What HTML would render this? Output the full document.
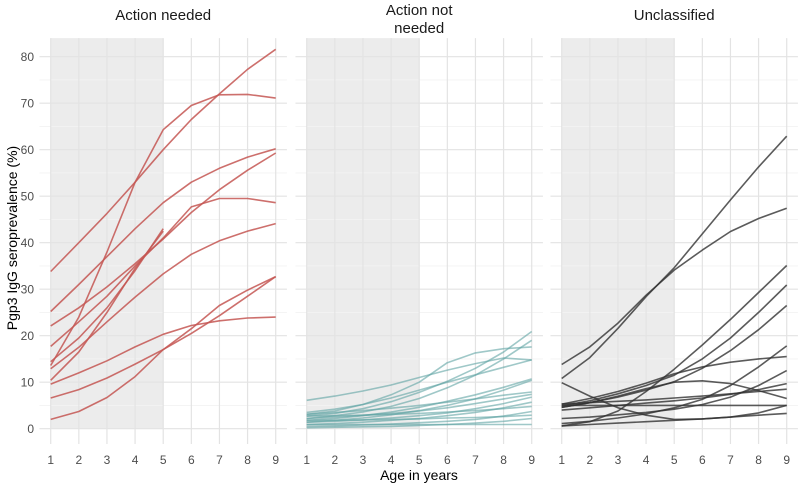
<!DOCTYPE html>
<html><head><meta charset="utf-8">
<style>
html,body{margin:0;padding:0;background:#fff;}
svg{display:block;font-family:"Liberation Sans",Arial,sans-serif;}
</style></head>
<body>
<svg id="chart" width="798" height="485" viewBox="0 0 798 485" xmlns="http://www.w3.org/2000/svg">
<text transform="translate(17,238) rotate(-90)" text-anchor="middle" font-size="14" fill="#000">Pgp3 IgG seroprevalence (%)</text>
<text x="419" y="480" text-anchor="middle" font-size="14" fill="#000">Age in years</text>
<g id="panels"></g>
</svg>
<script>
const ages = [1,2,3,4,5,6,7,8,9];
const yTicks = [0,10,20,30,40,50,60,70,80];
const panelTitles = [["Action needed"],["Action not","needed"],["Unclassified"]];
const panelColors = ["rgba(196,86,82,0.85)","rgba(95,163,163,0.6)","rgba(50,50,50,0.8)"];
const seriesActionNeeded = [
 [33.8,40,46.3,53,60,66.5,72,77.3,81.6],
 [13.6,24,38,53,64.3,69.5,71.8,71.9,71.1],
 [25.2,31,37,43,48.6,53,56,58.4,60.2],
 [22.1,26,30.5,35.5,40.8,46.5,51.4,55.6,59.3],
 [17.7,23,28.5,35,41,47.7,49.5,49.5,48.6],
 [12.9,17.5,23,28.3,33.3,37.5,40.4,42.5,44.1],
 [14.4,19.5,26,34,43,null,null,null,null],
 [10.4,16.5,25,34.5,42.5,null,null,null,null],
 [6.6,8.4,10.9,13.9,17,21.5,26.5,29.8,32.7],
 [2.0,3.7,6.7,11.2,17,20.5,24.3,28.5,32.7],
 [9.6,12,14.6,17.6,20.3,22.2,23.2,23.8,24]
];
const seriesActionNotNeeded = [
 [6.1,7.0,8.1,9.4,11.0,12.6,14.0,15.2,14.8],
 [3.1,3.8,5.2,7.3,10.0,14.2,16.3,17.2,17.6],
 [2.7,3.3,4.3,5.8,7.8,10.2,13.0,16.5,20.9],
 [2.2,2.8,3.6,4.8,6.5,8.8,11.5,15.0,19.0],
 [3.5,4.2,5.2,6.6,8.3,10.0,11.6,13.2,14.8],
 [1.8,2.2,2.8,3.6,4.6,5.9,7.3,8.9,10.7],
 [1.4,1.8,2.3,3.0,3.9,5.0,6.4,8.3,10.4],
 [3.1,3.5,3.9,4.4,5.0,5.7,6.4,7.2,7.9],
 [2.2,2.5,2.9,3.3,3.8,4.5,5.4,6.4,7.4],
 [1.4,1.6,1.9,2.3,2.8,3.4,4.3,5.4,6.8],
 [0.9,1.1,1.4,1.8,2.2,2.8,3.5,4.5,5.7],
 [2.7,2.8,2.9,3.1,3.3,3.6,3.9,4.3,4.8],
 [0.5,0.6,0.8,1.0,1.3,1.6,2.0,2.7,3.7],
 [1.8,1.8,1.9,2.0,2.1,2.3,2.4,2.6,2.9],
 [0.2,0.3,0.4,0.5,0.7,0.9,1.2,1.6,2.2],
 [0.9,0.9,0.9,0.9,0.9,0.9,0.9,0.9,0.9]
];
const seriesUnclassified = [
 [10.8,15.3,21.6,28.4,34.6,41.9,49.2,56.3,62.9],
 [13.8,17.6,22.7,28.7,34.1,38.4,42.4,45.2,47.4],
 [0.6,1.5,3.8,8.0,12.8,18.0,23.5,29.3,35.1],
 [4.9,6.0,7.5,9.3,11.5,15.0,19.5,25,30.9],
 [4.6,5.6,6.8,8.3,10.1,13.0,16.8,21.3,26.5],
 [1.1,1.6,2.3,3.2,4.5,6.3,9.3,13.3,17.8],
 [5.3,6.5,8.0,9.8,11.8,13.3,14.3,15.0,15.5],
 [2.2,2.5,3.0,3.5,4.2,5.2,6.8,9.3,12.5],
 [9.9,7.0,4.5,2.9,2.0,2.1,2.5,3.4,5.0],
 [4.0,4.5,5.0,5.5,6.0,6.6,7.4,8.4,9.7],
 [4.6,5.6,7.0,8.6,10.0,10.3,9.7,8.2,6.5],
 [5.3,5.6,5.9,6.2,6.6,7.0,7.5,8.0,8.5],
 [0.6,0.9,1.2,1.5,1.8,2.1,2.5,2.9,3.3],
 [5.0,5.0,5.0,5.0,5.0,5.0,5.0,5.0,5.0]
];
const allSeries = [seriesActionNeeded, seriesActionNotNeeded, seriesUnclassified];
const panelNames = ["action-needed","action-not-needed","unclassified"];

const NS = "http://www.w3.org/2000/svg";
const panelOffsets = [0,256,511];
function xScale(p, v){ return 50.7 + panelOffsets[p] + (v-1)*28.125; }
function yScale(v){ return 428.7 - v*4.65; }
function mk(tag, attrs, parent){ const e=document.createElementNS(NS,tag); for(const k in attrs) e.setAttribute(k,attrs[k]); parent.appendChild(e); return e; }

const root = document.getElementById("panels");
for(let p=0;p<3;p++){
  const g = mk("g",{},root);
  
  
  const x0=xScale(p,0.6), x1=xScale(p,9.4), yTop=yScale(84), yBot=yScale(-3.3);
  const shade = mk("rect",{x:xScale(p,1),y:yTop,width:xScale(p,5)-xScale(p,1),height:yScale(0)-yTop,fill:"#ececec"},g);
  
  
  for(let v=5; v<84; v+=10){
    mk("line",{x1:x0,x2:x1,y1:yScale(v),y2:yScale(v),stroke:"#f3f3f3","stroke-width":0.8},g);
  }
  for(const v of yTicks){
    const gl = mk("line",{x1:x0,x2:x1,y1:yScale(v),y2:yScale(v),stroke:"#e3e3e3","stroke-width":1.2},g);
    
    
  }
  for(const a of ages){
    const gl = mk("line",{x1:xScale(p,a),x2:xScale(p,a),y1:yTop,y2:yBot,stroke:"#e3e3e3","stroke-width":1.2},g);
    
    
    const t = mk("text",{x:xScale(p,a),y:464,"text-anchor":"middle","font-size":12,fill:"#4d4d4d"},g);
    t.textContent = a;
    
    
  }
  if(p===0){
    for(const v of yTicks){
      const t = mk("text",{x:34,y:yScale(v)+4.3,"text-anchor":"end","font-size":12,fill:"#4d4d4d"},g);
      t.textContent = v;
      
      
    }
  }
  const cx = (x0+x1)/2;
  const lines = panelTitles[p];
  lines.forEach((s,i)=>{
    const t = mk("text",{x:cx,y:(lines.length===1?20:15)+i*18,"text-anchor":"middle","font-size":15,fill:"#1a1a1a"},g);
    t.textContent = s;
    
    
  });
  allSeries[p].forEach(series=>{
    const pts=[];
    series.forEach((v,i)=>{ if(v!==null) pts.push(xScale(p,ages[i]).toFixed(1)+","+yScale(v).toFixed(1)); });
    const pl = mk("polyline",{points:pts.join(" "),fill:"none",stroke:panelColors[p],"stroke-width":1.6,"stroke-linejoin":"round"},g);
    
    
  });
}
</script>
</body></html>
